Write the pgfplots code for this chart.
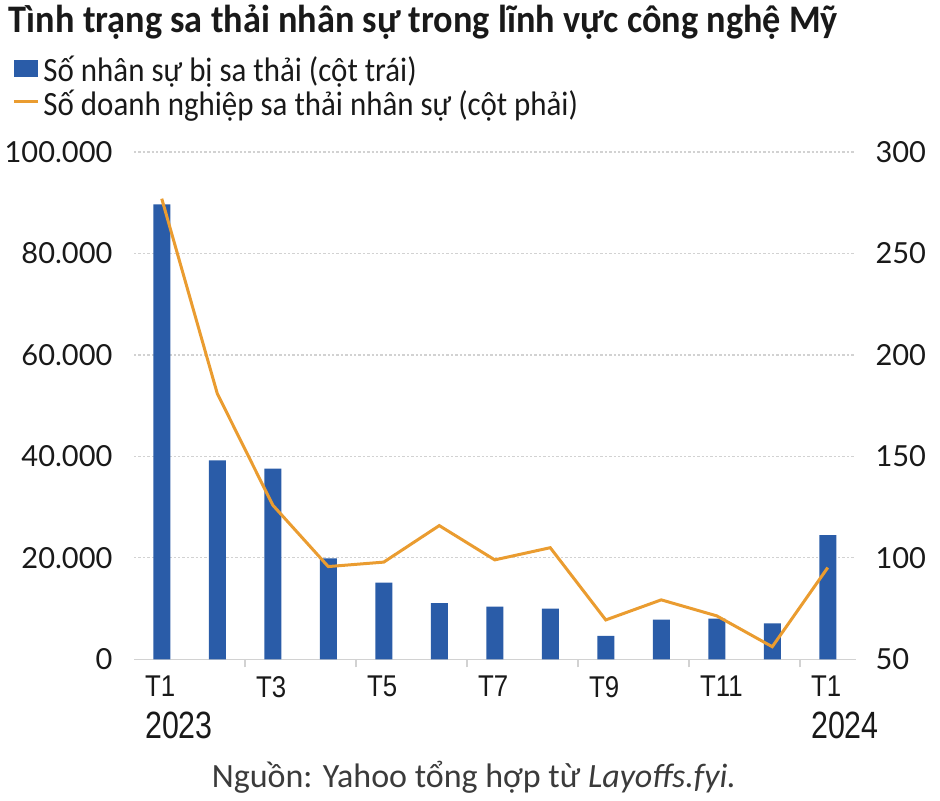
\documentclass[border=0pt]{standalone}
\usepackage{pgfplots}
\pgfplotsset{compat=1.18}
\usepackage{fontspec}
\setmainfont{Carlito}
\newfontfamily\titlefont[FakeStretch=0.93]{Carlito}
\newfontfamily\legfont[FakeStretch=0.91]{Carlito}
\newfontfamily\latofont{Lato}
\newfontfamily\monfont[FakeStretch=0.86]{Liberation Sans}
\newfontfamily\yearfont[FakeStretch=0.8]{Liberation Sans}
\definecolor{barblue}{RGB}{42,92,168}
\definecolor{lineorange}{RGB}{234,156,48}
\definecolor{gridgray}{RGB}{210,210,210}
\definecolor{txt}{RGB}{25,25,25}
\newcommand{\yr}[1]{{\yearfont\fontsize{19}{21}\selectfont #1}}
\begin{document}
\begin{tikzpicture}
\useasboundingbox (0,0) rectangle (470pt,400pt);
\node[anchor=base west, inner sep=0pt, text=txt, font=\titlefont\fontsize{19.5}{24}\selectfont\bfseries] at (4pt,383.5pt) {Tình trạng sa thải nhân sự trong lĩnh vực công nghệ Mỹ};
\begin{axis}[
  at={(67pt,70.35pt)}, anchor=south west,
  scale only axis, width=360.75pt, height=253.65pt,
  xmin=-0.5, xmax=12.5, ymin=0, ymax=100000,
  ybar, bar width=8.5pt,
  axis x line*=bottom, axis y line*=left,
  x axis line style={gridgray, line width=0.8pt, -},
  y axis line style={draw=none},
  ymajorgrids, grid style={gridgray, dash pattern=on 1.2pt off 1pt, line width=0.6pt},
  scaled y ticks=false,
  ytick={0,20000,40000,60000,80000,100000},
  yticklabels={0,20.000,40.000,60.000,80.000,100.000},
  ytick style={draw=none},
  yticklabel style={font=\latofont\fontsize{14.5}{17}\selectfont, text=txt, anchor=east, xshift=-3pt},
  xtick={0,2,4,6,8,10,12},
  xticklabels={{T1\\\yr{2023}},T3,T5,T7,T9,T11,{T1\\\yr{2024}}},
  xticklabel style={font=\monfont\fontsize{15}{21}\selectfont, text=txt, align=left, anchor=north west, inner sep=0pt, xshift=-8.5pt, yshift=-4pt},
  major x tick style={draw=none},
  minor xtick={1.5,3.5,5.5,7.5,9.5,11.5},
  minor x tick style={gridgray, line width=0.8pt},
  minor tick length=4pt, tick align=outside,
  legend style={at={(-0.169,1.197)}, anchor=north west, draw=none, fill=none, inner sep=0pt, font=\legfont\fontsize{17}{20}\selectfont, text=txt, row sep=-1.5pt, cells={anchor=west}},
  legend cell align=left,
]
\addplot[fill=barblue, draw=none, legend image code/.code={\fill[barblue] (0pt,-3pt) rectangle (12pt,5.5pt);}] coordinates {
 (0,89700) (1,39200) (2,37600) (3,19900) (4,15100) (5,11100) (6,10400)
 (7,10000) (8,4600) (9,7800) (10,8000) (11,7100) (12,24500)};
\addlegendentry{Số nhân sự bị sa thải (cột trái)}
\addlegendimage{legend image code/.code={\draw[lineorange, line width=1.5pt] (0pt,1.5pt) -- (12pt,1.5pt);}}
\addlegendentry{Số doanh nghiệp sa thải nhân sự (cột phải)}
\end{axis}
\begin{axis}[
  at={(67pt,70.35pt)}, anchor=south west,
  scale only axis, width=360.75pt, height=253.65pt,
  xmin=-0.5, xmax=12.5, ymin=50, ymax=300,
  axis x line=none, axis y line*=right,
  y axis line style={draw=none},
  ytick={50,100,150,200,250,300},
  yticklabels={50,100,150,200,250,300},
  ytick style={draw=none},
  yticklabel style={font=\latofont\fontsize{14.5}{17}\selectfont, text=txt, anchor=west, xshift=6.5pt},
]
\addplot[lineorange, line width=1.5pt, mark=none] coordinates {
 (0,277) (1,181) (2,126) (3,95.7) (4,97.9) (5,115.9) (6,99)
 (7,105) (8,69.4) (9,79.3) (10,71.4) (11,56.2) (12,95.2)};
\end{axis}
\node[anchor=base, inner sep=0pt, text=txt!85, font=\fontsize{17}{20}\selectfont] at (237pt,6.5pt) {Nguồn: Yahoo tổng hợp từ \textit{Layoffs.fyi.}};
\end{tikzpicture}
\end{document}
